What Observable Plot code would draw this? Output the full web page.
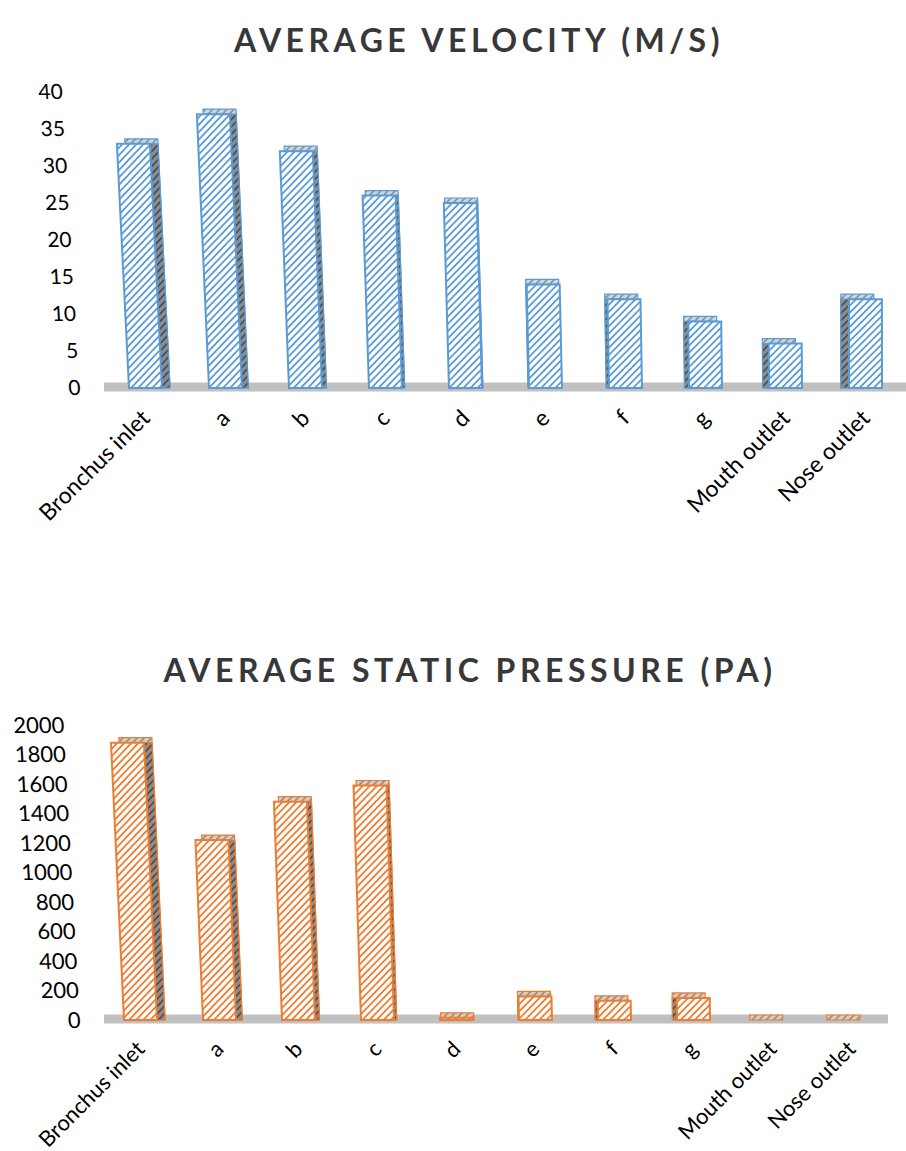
<!DOCTYPE html>
<html>
<head>
<meta charset="utf-8">
<script src="https://cdn.jsdelivr.net/npm/d3@7"></script>
<script src="https://cdn.jsdelivr.net/npm/@observablehq/plot@0.6"></script>
<style>
  body { margin: 0; background: #fff; }
  #page { position: relative; width: 906px; height: 1151px; overflow: hidden; font-family: Lato, sans-serif; }
  .title { position: absolute; left: 0; width: 906px; text-align: center; font-size: 32px; font-weight: 700;
           letter-spacing: 4.5px; color: #383838; line-height: 40px; white-space: nowrap; }
  .chart { position: absolute; left: 0; }
</style>
</head>
<body>
<div id="page">
  <div class="title" style="top:20px; left:26px">AVERAGE VELOCITY (M/S)</div>
  <div class="chart" id="velocity" style="top:70px"></div>
  <div class="title" style="top:650px; left:17px">AVERAGE STATIC PRESSURE (PA)</div>
  <div class="chart" id="pressure" style="top:700px"></div>
</div>
<script>
// Measurement locations along the airway
const locations = ["Bronchus inlet", "a", "b", "c", "d", "e", "f", "g", "Mouth outlet", "Nose outlet"];
// Average velocity (m/s) at each location
const velocity = [33, 37, 32, 26, 25, 14, 12, 9, 6, 12];
// Average static pressure (Pa) at each location
const pressure = [1880, 1220, 1480, 1590, 15, 160, 130, 150, 0, 0];
// Value-axis ticks
const velocityTicks = [0, 5, 10, 15, 20, 25, 30, 35, 40];
const pressureTicks = [0, 200, 400, 600, 800, 1000, 1200, 1400, 1600, 1800, 2000];

// Hatched fills: front face, lighter top face and darker side face of each column
function addPatterns(svg, id, color, topBg, sideBg) {
  const defs = d3.select(svg).insert("defs", ":first-child");
  const make = (name, bg, line, w) => {
    const p = defs.append("pattern").attr("id", `${id}-${name}`)
      .attr("patternUnits", "userSpaceOnUse").attr("width", 5).attr("height", 5)
      .attr("patternTransform", "rotate(45)");
    p.append("rect").attr("width", 5).attr("height", 5).attr("fill", bg);
    p.append("line").attr("x1", 2.5).attr("x2", 2.5).attr("y1", 0).attr("y2", 5)
      .attr("stroke", line).attr("stroke-width", w);
  };
  make("hatch", "#fff", color, 1.8);
  make("top", topBg, "#8a8a8a", 1.5);
  make("side", sideBg, "#4a4a4a", 1.6);
}

// Slight perspective lean of the columns and of the value axis around the floor line
function addPerspective(svg, y0, lean, axisLean, vanish) {
  const s = d3.select(svg);
  s.selectAll('g[aria-label="bar"] rect').each(function () {
    const r = d3.select(this);
    const cx = +r.attr("x") + +r.attr("width") / 2;
    const k = lean * Math.max(0, vanish - cx) / 740;
    r.attr("transform", `translate(${-k * y0},0) skewX(${Math.atan(k) * 180 / Math.PI})`);
  });
  s.selectAll('g[aria-label="y-axis tick label"]').each(function () {
    const g = d3.select(this);
    const t = g.attr("transform") || "";
    g.attr("transform", `translate(${-axisLean * y0},0) skewX(${Math.atan(axisLean) * 180 / Math.PI}) ${t}`);
  });
}

function columnChart({values, ticks, id, stroke, topBg, sideBg, height, marginTop, marginBottom, marginLeft, marginRight,
                      paddingInner, paddingOuter, lean, axisLean, yFont, xFont, xPad}) {
  const rows = locations.map((name, i) => ({name, value: values[i]}));
  const mid = (locations.length - 1) / 2;
  const depth = 5;
  const marks = [Plot.ruleY([0], {stroke: "#c0c0c0", strokeWidth: 9, dy: -1.5})];
  rows.forEach((row, i) => {
    const dx = (mid - i) * 1.8;
    // top face, seen from slightly above
    marks.push(Plot.barY([row], {x: "name", y: "value", fill: `url(#${id}-top)`, stroke, strokeWidth: 1.2,
                                 dx, insetTop: -depth}));
    // receding side face, toward the viewer's side
    marks.push(Plot.barY([row], {x: "name", y: "value", fill: `url(#${id}-side)`, stroke, strokeWidth: 1.2, dx}));
    // front face
    marks.push(Plot.barY([row], {x: "name", y: "value", fill: `url(#${id}-hatch)`, stroke, strokeWidth: 2}));
  });
  marks.push(Plot.axisY({ticks, tickSize: 0, tickPadding: 24, tickFormat: d => String(d), label: null, fontSize: yFont}));
  marks.push(Plot.axisX({tickSize: 0, tickPadding: xPad, tickRotate: -45, label: null, fontSize: xFont}));
  const svg = Plot.plot({
    width: 906, height, marginTop, marginBottom, marginLeft, marginRight,
    style: {fontFamily: "Lato, sans-serif", color: "#000", background: "transparent", overflow: "visible"},
    x: {type: "band", domain: locations, paddingInner, paddingOuter},
    y: {domain: [0, ticks[ticks.length - 1]]},
    marks
  });
  addPatterns(svg, id, stroke, topBg, sideBg);
  addPerspective(svg, height - marginBottom, lean, axisLean, 880);
  return svg;
}

document.getElementById("velocity").append(columnChart({
  values: velocity, ticks: velocityTicks, id: "vel", stroke: "#5b9bd5", topBg: "#c9d6e3", sideBg: "#858d96",
  height: 460, marginTop: 22, marginBottom: 142, marginLeft: 104, marginRight: 0,
  paddingInner: 0.59, paddingOuter: 0.264, lean: 0.05, axisLean: 0.06, yFont: 21, xFont: 23, xPad: 26
}));
document.getElementById("pressure").append(columnChart({
  values: pressure, ticks: pressureTicks, id: "pre", stroke: "#ed7d31", topBg: "#dccbbf", sideBg: "#958a83",
  height: 451, marginTop: 25, marginBottom: 131, marginLeft: 104, marginRight: 18,
  paddingInner: 0.583, paddingOuter: 0.247, lean: 0.047, axisLean: 0.055, yFont: 22, xFont: 22, xPad: 25
}));
</script>
</body>
</html>
